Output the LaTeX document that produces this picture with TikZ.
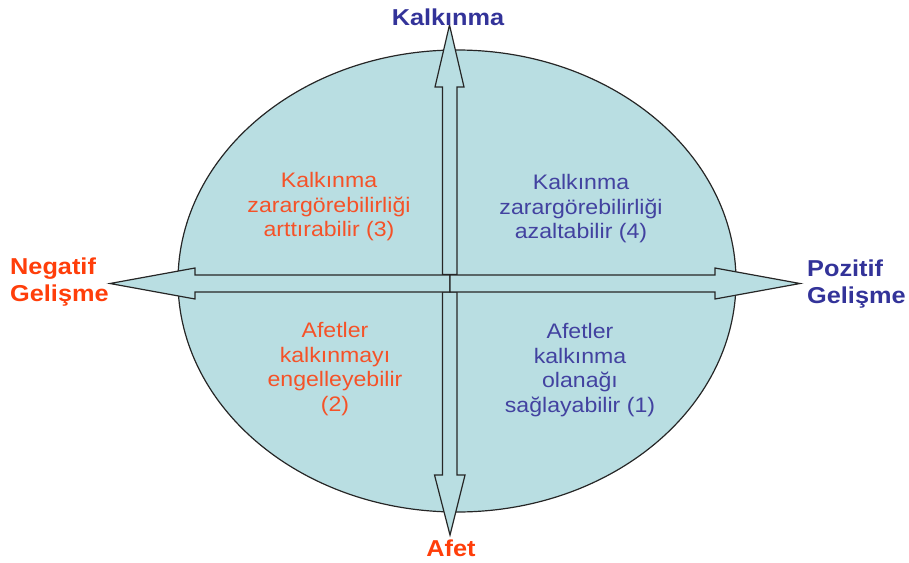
\documentclass[tikz,border=0pt]{standalone}
\usepackage{fontspec}
\setmainfont{Liberation Sans}[FakeStretch=1.1]
\definecolor{fillblue}{RGB}{185,222,226}
\definecolor{lblorange}{RGB}{255,62,10}
\definecolor{txtorange}{RGB}{245,82,40}
\definecolor{lblblue}{RGB}{51,51,153}
\definecolor{txtblue}{RGB}{66,66,160}
\begin{document}
\begin{tikzpicture}[x=1pt,y=-1pt,
  shapeline/.style={draw=black!85,line width=1.2pt,fill=fillblue,line join=miter},
  quadtext/.style={align=center,inner sep=0pt,font=\fontsize{21}{24.5}\selectfont},
  axislabel/.style={align=left,inner sep=0pt,font=\bfseries\fontsize{23}{27}\selectfont}]
\useasboundingbox (0,0) rectangle (909,562);
% ellipse
\draw[shapeline] (457,281) ellipse [x radius=279,y radius=231];
% up arrow
\draw[shapeline] (442.5,274.5) -- (442.5,87) -- (435,87) -- (449.5,25) -- (464,87) -- (457,87) -- (457,274.5) -- cycle;
% down arrow
\draw[shapeline] (442.5,292) -- (442.5,475) -- (434.5,475) -- (450,535) -- (465,475) -- (457,475) -- (457,292) -- cycle;
% left arrow
\draw[shapeline] (450,275) -- (195,275) -- (195,268) -- (110,283.5) -- (195,299) -- (195,292) -- (450,292) -- cycle;
% right arrow
\draw[shapeline] (450,275) -- (715,275) -- (715,268) -- (800,283.5) -- (715,299) -- (715,292) -- (450,292) -- cycle;
% axis labels
\node[axislabel,text=lblblue,anchor=center] (top) at (448,17) {Kalkınma};
\node[axislabel,text=lblorange,anchor=center] (bottom) at (451,548) {Afet};
\node[axislabel,text=lblorange,anchor=west] (left) at (10,282) {Negatif\\Gelişme};
\node[axislabel,text=lblblue,anchor=west] (right) at (807,284) {Pozitif\\Gelişme};
% quadrant texts
\node[quadtext,text=txtorange] (q3) at (329,207) {Kalkınma\\zarargörebilirliği\\arttırabilir (3)};
\node[quadtext,text=txtblue] (q4) at (581,209) {Kalkınma\\zarargörebilirliği\\azaltabilir (4)};
\node[quadtext,text=txtorange] (q2) at (335,369) {Afetler\\kalkınmayı\\engelleyebilir\\(2)};
\node[quadtext,text=txtblue] (q1) at (580,370) {Afetler\\kalkınma\\olanağı\\sağlayabilir (1)};
\end{tikzpicture}
\end{document}
